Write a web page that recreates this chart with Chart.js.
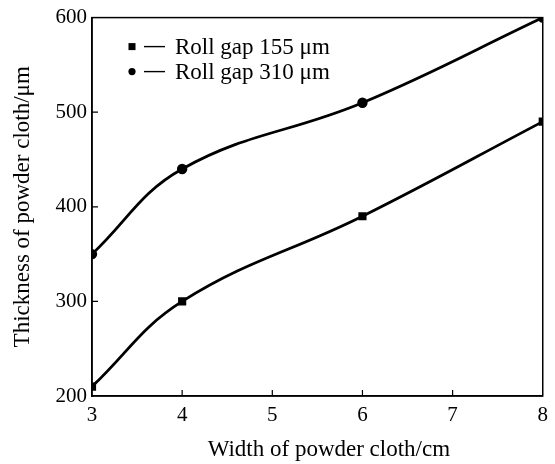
<!DOCTYPE html>
<html>
<head>
<meta charset="utf-8">
<script src="https://cdn.jsdelivr.net/npm/chart.js@4/dist/chart.umd.min.js"></script>
<style>
  html, body { margin: 0; padding: 0; background: #fff; }
  #wrap { width: 555px; height: 464px; }
</style>
</head>
<body>
<div id="wrap"><canvas id="chart"></canvas></div>
<script>
// data
const widths = [3, 4, 6, 8];
const gap155 = [210, 300, 390, 490];
const gap310 = [350, 440, 510, 600];
const seriesNames = ["Roll gap 155 \u03bcm", "Roll gap 310 \u03bcm"];
const xTicks = [3, 4, 5, 6, 7, 8];
const yTicks = [200, 300, 400, 500, 600];

const FONT = "'Liberation Serif', 'DejaVu Serif', serif";

function toPoints(ys) {
    return widths.map((x, i) => ({ x: x, y: ys[i] }));
}

// inward ticks, closed frame and in-plot legend
const framePlugin = {
    id: "frame",
    afterDatasetsDraw(chart) {
        const ctx = chart.ctx;
        const a = chart.chartArea;
        const xs = chart.scales.x;
        const ys = chart.scales.y;
        ctx.save();
        ctx.strokeStyle = "#000";
        ctx.lineWidth = 1.5;
        ctx.strokeRect(a.left, a.top, a.right - a.left, a.bottom - a.top);

        ctx.lineWidth = 1.2;
        ctx.beginPath();
        xTicks.slice(1, -1).forEach(v => {
            const px = xs.getPixelForValue(v);
            ctx.moveTo(px, a.bottom);
            ctx.lineTo(px, a.bottom - 6);
        });
        yTicks.slice(1, -1).forEach(v => {
            const py = ys.getPixelForValue(v);
            ctx.moveTo(a.left, py);
            ctx.lineTo(a.left + 6, py);
        });
        ctx.stroke();

        // legend
        ctx.font = "23px " + FONT;
        ctx.textBaseline = "middle";
        ctx.fillStyle = "#000";
        const rows = [a.top + 29, a.top + 54];
        rows.forEach((y, i) => {
            const mx = a.left + 40;
            if (i === 0) {
                ctx.fillRect(mx - 3.5, y - 3.5, 7, 7);
            } else {
                ctx.beginPath();
                ctx.arc(mx, y, 3.6, 0, Math.PI * 2);
                ctx.fill();
            }
            ctx.lineWidth = 1.4;
            ctx.beginPath();
            ctx.moveTo(mx + 12, y);
            ctx.lineTo(mx + 33, y);
            ctx.stroke();
            ctx.fillText(seriesNames[i], mx + 43, y + 1);
        });
        ctx.restore();
    }
};

const ctx = document.getElementById("chart").getContext("2d");

new Chart(ctx, {
    type: "scatter",
    data: {
        datasets: [{
            label: seriesNames[0],
            data: toPoints(gap155),
            showLine: true,
            borderColor: "#000",
            backgroundColor: "#000",
            borderWidth: 2.8,
            tension: 0.4,
            pointStyle: "rect",
            pointRadius: 3.8,
            pointHoverRadius: 3.8
        }, {
            label: seriesNames[1],
            data: toPoints(gap310),
            showLine: true,
            borderColor: "#000",
            backgroundColor: "#000",
            borderWidth: 2.8,
            tension: 0.4,
            pointStyle: "circle",
            pointRadius: 3.8,
            pointHoverRadius: 3.8
        }]
    },
    options: {
        responsive: true,
        maintainAspectRatio: false,
        animation: false,
        layout: { padding: { top: 15, right: 8, left: 0, bottom: 0 } },
        plugins: {
            legend: { display: false },
            tooltip: { enabled: false }
        },
        scales: {
            x: {
                type: "linear",
                min: 3,
                max: 8,
                afterBuildTicks: s => { s.ticks = xTicks.map(v => ({ value: v })); },
                afterFit: s => { s.height = 68; },
                grid: { display: false, drawTicks: false, tickLength: 0 },
                border: { display: true, color: "#000", width: 1.5 },
                ticks: { color: "#000", font: { family: FONT, size: 21 }, padding: 7 },
                title: {
                    display: true,
                    text: "    Width of powder cloth/cm",
                    color: "#000",
                    font: { family: FONT, size: 23 },
                    padding: { top: 4, bottom: 0 }
                }
            },
            y: {
                min: 200,
                max: 600,
                afterBuildTicks: s => { s.ticks = yTicks.map(v => ({ value: v })); },
                afterFit: s => { s.width = 92; },
                grid: { display: false, drawTicks: false, tickLength: 0 },
                border: { display: true, color: "#000", width: 1.5 },
                ticks: { color: "#000", font: { family: FONT, size: 21 }, padding: 5 },
                title: {
                    display: true,
                    text: "Thickness of powder cloth/\u03bcm",
                    color: "#000",
                    font: { family: FONT, size: 23 },
                    padding: { top: 9, bottom: 0 }
                }
            }
        }
    },
    plugins: [framePlugin]
});
</script>
</body>
</html>
